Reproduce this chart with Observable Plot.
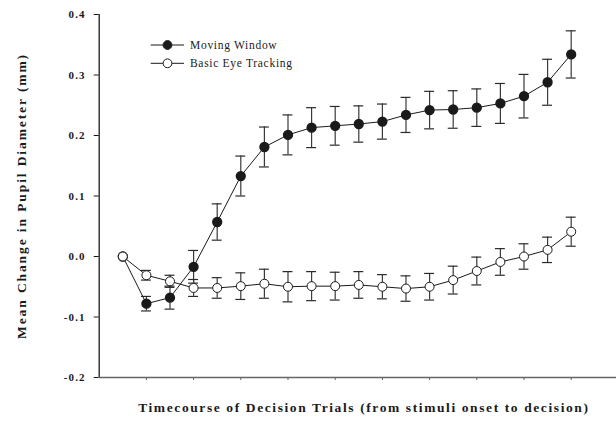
<!DOCTYPE html>
<html><head><meta charset="utf-8">
<script src="https://cdn.jsdelivr.net/npm/d3@7"></script>
<script src="https://cdn.jsdelivr.net/npm/@observablehq/plot@0.6"></script>
<style>
body{margin:0;background:#fff}
svg{font-family:"Liberation Serif","Times New Roman",serif}
g[aria-label="y-axis tick label"] text{font-size:11px;font-weight:bold;letter-spacing:1.1px}
</style>
</head><body><div id="chart"></div>
<script>
const trials = [1,2,3,4,5,6,7,8,9,10,11,12,13,14,15,16,17,18,19,20];
const movingWindow = [0, -0.078, -0.068, -0.017, 0.057, 0.133, 0.181, 0.201, 0.213, 0.216, 0.219, 0.223, 0.234, 0.242, 0.243, 0.246, 0.253, 0.265, 0.288, 0.334];
const movingWindowErr = [0, 0.012, 0.019, 0.027, 0.030, 0.033, 0.033, 0.033, 0.033, 0.032, 0.030, 0.029, 0.029, 0.031, 0.031, 0.031, 0.033, 0.036, 0.038, 0.039];
const basicTracking = [0, -0.031, -0.041, -0.052, -0.052, -0.049, -0.045, -0.050, -0.049, -0.049, -0.047, -0.050, -0.053, -0.050, -0.039, -0.024, -0.009, 0.000, 0.011, 0.041];
const basicTrackingErr = [0, 0.008, 0.010, 0.014, 0.017, 0.022, 0.024, 0.025, 0.024, 0.023, 0.022, 0.020, 0.021, 0.022, 0.023, 0.023, 0.022, 0.021, 0.021, 0.024];
const yTicks = [-0.2, -0.1, 0.0, 0.1, 0.2, 0.3, 0.4];
const xTicks = [2, 4, 6, 8, 10, 12, 14, 16, 18, 20];
const seriesNames = ["Moving Window", "Basic Eye Tracking"];
const yTitle = "Mean Change in Pupil Diameter (mm)";
const xTitle = "Timecourse of Decision Trials (from stimuli onset to decision)";

const mw = trials.map((t, i) => ({t, v: movingWindow[i], e: movingWindowErr[i]}));
const bt = trials.map((t, i) => ({t, v: basicTracking[i], e: basicTrackingErr[i]}));
const capHalf = 0.21;
const ink = "#1a1a1a";

function errMarks(data) {
  const d = data.filter(r => r.e > 0);
  return [
    Plot.ruleX(d, {x: "t", y1: r => r.v - r.e, y2: r => r.v + r.e, stroke: "#3a3a3a", strokeWidth: 1.2}),
    Plot.ruleY(d, {y: r => r.v + r.e, x1: r => r.t - capHalf, x2: r => r.t + capHalf, stroke: "#2a2a2a", strokeWidth: 1.2}),
    Plot.ruleY(d, {y: r => r.v - r.e, x1: r => r.t - capHalf, x2: r => r.t + capHalf, stroke: "#2a2a2a", strokeWidth: 1.2})
  ];
}

const chart = Plot.plot({
  width: 616, height: 424,
  marginLeft: 98.7, marginRight: 0, marginTop: 14, marginBottom: 47,
  style: {fontFamily: '"Liberation Serif", serif', background: "#fff"},
  x: {domain: [0, 21.92], axis: null},
  y: {domain: [-0.2, 0.4], axis: null},
  marks: [
    Plot.axisY({ticks: yTicks, tickFormat: d => d.toFixed(1), tickSize: 5, tickPadding: 8.6, label: null,
      fontSize: 11, fontWeight: "bold", fill: ink, stroke: ink}),
    Plot.axisX({ticks: xTicks, tickFormat: () => "", tickSize: 3, label: null, stroke: "#666"}),
    Plot.ruleX([0], {y1: -0.2, y2: 0.4, stroke: ink, strokeWidth: 1.3}),
    Plot.ruleY([-0.2], {stroke: "#666", strokeWidth: 1.6}),
    ...errMarks(mw),
    ...errMarks(bt),
    Plot.line(mw, {x: "t", y: "v", stroke: ink, strokeWidth: 1}),
    Plot.line(bt, {x: "t", y: "v", stroke: ink, strokeWidth: 1}),
    Plot.dot(mw, {x: "t", y: "v", r: 4.4, fill: ink, stroke: ink}),
    Plot.dot(bt, {x: "t", y: "v", r: 4.5, fill: "#fff", stroke: ink, strokeWidth: 1}),
    Plot.text([yTitle], {text: d => d, frameAnchor: "left", textAnchor: "middle", rotate: -90, dx: -78, fontSize: 13.5, fontWeight: "bold", fill: ink}),
    Plot.text([xTitle], {text: d => d, frameAnchor: "bottom", textAnchor: "middle", dy: 34, dx: 6, fontSize: 13.5, fontWeight: "bold", fill: ink})
  ]
});
document.getElementById("chart").appendChild(chart);

const svg = d3.select(chart);
svg.selectAll("text").filter(function() { return this.textContent === yTitle; }).attr("letter-spacing", "1.9px");
svg.selectAll("text").filter(function() { return this.textContent === xTitle; }).attr("letter-spacing", "1.6px");

// legend
const lg = svg.append("g").attr("font-family", '"Liberation Serif", serif').attr("text-anchor", "start");
seriesNames.forEach((name, i) => {
  const y = 45 + i * 18.3;
  const g = lg.append("g");
  g.append("line").attr("x1", 150.7).attr("x2", 184).attr("y1", y).attr("y2", y).attr("stroke", ink).attr("stroke-width", 1);
  g.append("circle").attr("cx", 167.5).attr("cy", y).attr("r", 4.4)
    .attr("fill", i === 0 ? ink : "#fff").attr("stroke", ink).attr("stroke-width", 1);
  g.append("text").attr("x", 190).attr("y", y).attr("dy", "0.35em").attr("font-size", 11.5)
    .attr("letter-spacing", "0.7px").attr("fill", ink).text(name);
});
</script></body></html>
